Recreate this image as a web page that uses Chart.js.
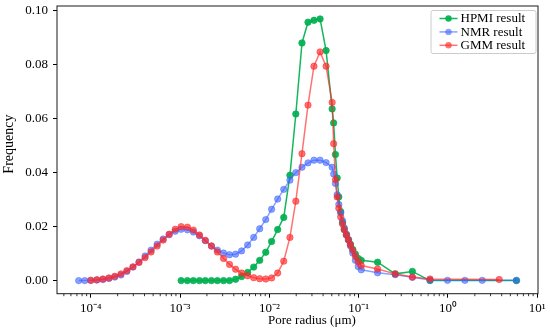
<!DOCTYPE html>
<html>
<head>
<meta charset="utf-8">
<script src="https://cdn.jsdelivr.net/npm/chart.js@4.4.1/dist/chart.umd.min.js"></script>
<style>
  html, body { margin: 0; padding: 0; background: #fff; }
</style>
</head>
<body>
<canvas id="myChart" width="550" height="334"></canvas>
<script>
// pore radius (um), shared by the three curves
const radius = [
  7.33e-5, 8.56e-5, 1.00e-4, 1.17e-4, 1.37e-4, 1.60e-4, 1.86e-4, 2.18e-4, 2.54e-4, 2.97e-4,
  3.47e-4, 4.06e-4, 4.74e-4, 5.54e-4, 6.47e-4, 7.56e-4, 8.84e-4, 1.03e-3, 1.21e-3, 1.41e-3,
  1.65e-3, 1.92e-3, 2.25e-3, 2.62e-3, 3.07e-3, 3.58e-3, 4.19e-3, 4.89e-3, 5.72e-3, 6.68e-3,
  7.80e-3, 9.12e-3, 1.06e-2, 1.24e-2, 1.45e-2, 1.70e-2, 1.98e-2, 2.32e-2, 2.71e-2, 3.16e-2,
  3.70e-2, 4.32e-2, 5.05e-2,
  0.0525, 0.055, 0.0575, 0.060, 0.063, 0.066, 0.069, 0.073, 0.077, 0.081, 0.086, 0.092, 0.099, 0.107,
  0.163, 0.257, 0.40, 0.63, 0.99, 1.55, 2.42, 3.75, 5.85
];

const hpmi = [
  null, null, null, null, null, null, null, null, null, null,
  null, null, null, null, null, null, null, 0, 0, 0,
  0, 0, 0, 0, 0, 0, 0.0005, 0.0015, 0.0030, 0.0050,
  0.0075, 0.0105, 0.0145, 0.0189, 0.0234, 0.0390, 0.0617, 0.0880, 0.0957, 0.0964,
  0.0969, 0.0852, 0.0636,
  0.0584, 0.0467, 0.0380, 0.0310, 0.0255, 0.0215, 0.0190, 0.0170, 0.0152, 0.0135, 0.0115, 0.0098, 0.0082, 0.0075,
  0.0068, 0.0025, 0.0034, 0.0000, null, null, null, null, 0.0000
];

const nmr = [
  0.0000, 0.0000, 0.0001, 0.0002, 0.0004, 0.0008, 0.0013, 0.0021, 0.0034, 0.0050,
  0.0069, 0.0091, 0.0113, 0.0135, 0.0154, 0.0170, 0.0183, 0.0190, 0.0188, 0.0180,
  0.0166, 0.0148, 0.0128, 0.0113, 0.0102, 0.0096, 0.0098, 0.0110, 0.0132, 0.0160,
  0.0192, 0.0226, 0.0264, 0.0302, 0.0338, 0.0372, 0.0400, 0.0420, 0.0436, 0.0446,
  0.0446, 0.0437, 0.0420,
  0.0395, 0.0360, 0.0318, 0.0282, 0.0250, 0.0222, 0.0196, 0.0172, 0.0150, 0.0128, 0.0102, 0.0075, 0.0052, 0.0040,
  0.0029, 0.0022, 0.0012, 0.0002, 0.0001, 0.0001, 0.0001, null, 0.0001
];

const gmm = [
  null, null, 0.0001, 0.0003, 0.0006, 0.0010, 0.0016, 0.0025, 0.0037, 0.0051,
  0.0067, 0.0085, 0.0106, 0.0128, 0.0150, 0.0172, 0.0190, 0.0200, 0.0198, 0.0187,
  0.0169, 0.0149, 0.0128, 0.0106, 0.0082, 0.0060, 0.0042, 0.0028, 0.0018, 0.0011,
  0.0007, 0.0006, 0.0010, 0.0028, 0.0072, 0.0160, 0.0294, 0.0470, 0.0650, 0.0794,
  0.0847, 0.0794, 0.0660,
  0.0507, 0.0374, 0.0310, 0.0268, 0.0236, 0.0210, 0.0188, 0.0168, 0.0150, 0.0132, 0.0112, 0.0090, 0.0070, 0.0056,
  0.0043, 0.0025, 0.0013, 0.0006, null, null, null, 0.0004, null
];

const seriesNames = ["HPMI result", "NMR result", "GMM result"];
const xTitle = "Pore radius (\u03BCm)";
const yTitle = "Frequency";
const xTickValues = [1e-4, 1e-3, 1e-2, 1e-1, 1, 10];
const xTickLabels = ["10\u207B\u2074", "10\u207B\u00B3", "10\u207B\u00B2", "10\u207B\u00B9", "10\u2070", "10\u00B9"];
const yTickValues = [0, 0.02, 0.04, 0.06, 0.08, 0.10];
const yTickLabels = ["0.00", "0.02", "0.04", "0.06", "0.08", "0.10"];

const FONT = "'Liberation Serif', 'Times New Roman', serif";

function toPoints(values) {
  return radius.map((r, i) => ({ x: r, y: values[i] })).filter((p) => p.y !== null);
}

// minor ticks of the log axis (2..9 x 10^k)
const minorTicks = [];
for (let e = -5; e <= 1; e++) {
  for (let m = 2; m <= 9; m++) minorTicks.push(m * Math.pow(10, e));
}

const framePlugin = {
  id: "framePlugin",
  afterDraw(chart) {
    const { ctx, chartArea: a, scales } = chart;
    ctx.save();
    ctx.strokeStyle = "#000";
    ctx.lineWidth = 0.8;
    minorTicks.forEach((v) => {
      if (v < scales.x.min || v > scales.x.max) return;
      const px = scales.x.getPixelForValue(v);
      ctx.beginPath();
      ctx.moveTo(px, a.bottom);
      ctx.lineTo(px, a.bottom + 2.5);
      ctx.stroke();
    });
    ctx.strokeStyle = "#1a1a1a";
    ctx.lineWidth = 1;
    ctx.strokeRect(a.left, a.top, a.right - a.left, a.bottom - a.top);

    // axis titles
    ctx.fillStyle = "#000";
    ctx.textAlign = "center";
    ctx.textBaseline = "middle";
    ctx.font = "13px " + FONT;
    ctx.fillText(xTitle, a.left + (a.right - a.left) * 0.53, a.bottom + 26.5);
    ctx.save();
    ctx.translate(9.5, a.top + (a.bottom - a.top) * 0.48);
    ctx.rotate(-Math.PI / 2);
    ctx.font = "14px " + FONT;
    ctx.fillText(yTitle, 0, 0);
    ctx.restore();

    // legend, upper right inside the axes
    const boxW = 105, boxH = 43;
    const bx = a.right - 2.5 - boxW, by = a.top + 4;
    ctx.fillStyle = "rgba(255,255,255,0.85)";
    ctx.strokeStyle = "#cccccc";
    ctx.lineWidth = 1;
    ctx.beginPath();
    ctx.roundRect(bx + 0.5, by + 0.5, boxW, boxH, 2);
    ctx.fill();
    ctx.stroke();
    ctx.font = "13px " + FONT;
    ctx.textAlign = "left";
    chart.data.datasets.forEach((ds, i) => {
      const cy = by + 8.5 + i * 13.4;
      ctx.strokeStyle = ds.borderColor;
      ctx.lineWidth = ds.borderWidth;
      ctx.beginPath();
      ctx.moveTo(bx + 9, cy);
      ctx.lineTo(bx + 27, cy);
      ctx.stroke();
      ctx.fillStyle = ds.pointBackgroundColor;
      ctx.beginPath();
      ctx.arc(bx + 18, cy, ds.pointRadius, 0, Math.PI * 2);
      ctx.fill();
      ctx.fillStyle = "#000";
      ctx.fillText(ds.label, bx + 30, cy + 0.5);
    });
    ctx.restore();
  },
};

function series(label, values, color, order) {
  return {
    label: label,
    data: toPoints(values),
    borderColor: color,
    backgroundColor: color,
    pointBackgroundColor: color,
    pointBorderColor: color,
    pointRadius: 3.2,
    pointBorderWidth: 0.8,
    borderWidth: 1.5,
    tension: 0,
    order: order,
  };
}

const ctx = document.getElementById("myChart").getContext("2d");
const myChart = new Chart(ctx, {
  type: "line",
  data: {
    datasets: [
      series(seriesNames[0], hpmi, "rgba(0,176,80,0.92)", 3),
      series(seriesNames[1], nmr, "rgba(60,100,255,0.6)", 2),
      series(seriesNames[2], gmm, "rgba(255,40,40,0.65)", 1),
    ],
  },
  options: {
    responsive: false,
    devicePixelRatio: 1,
    animation: false,
    layout: { padding: { top: 6, right: 12, left: 0, bottom: 0 } },
    plugins: { legend: { display: false }, tooltip: { enabled: false } },
    scales: {
      x: {
        type: "logarithmic",
        min: 4.19e-5,
        max: 10.2,
        afterBuildTicks: (scale) => {
          scale.ticks = xTickValues.map((v) => ({ value: v }));
        },
        afterFit: (scale) => {
          scale.height = 40.3;
          scale.paddingLeft = 0;
          scale.paddingRight = 0;
        },
        border: { display: false },
        grid: { drawOnChartArea: false, drawTicks: true, tickLength: 4, tickColor: "#000", tickWidth: 1 },
        ticks: {
          autoSkip: false,
          maxRotation: 0,
          padding: 3,
          color: "#000",
          font: { family: FONT, size: 13 },
          callback: (v) => xTickLabels[xTickValues.indexOf(v)] ?? "",
        },
      },
      y: {
        type: "linear",
        min: -0.00485,
        max: 0.1017,
        afterBuildTicks: (scale) => {
          scale.ticks = yTickValues.map((v) => ({ value: v }));
        },
        afterFit: (scale) => {
          scale.width = 57;
          scale.paddingTop = 0;
          scale.paddingBottom = 0;
        },
        border: { display: false },
        grid: { drawOnChartArea: false, drawTicks: true, tickLength: 4, tickColor: "#000", tickWidth: 1 },
        ticks: {
          padding: 5,
          color: "#000",
          font: { family: FONT, size: 13 },
          callback: (v) => yTickLabels[yTickValues.indexOf(v)] ?? "",
        },
      },
    },
  },
  plugins: [framePlugin],
});
</script>
</body>
</html>
